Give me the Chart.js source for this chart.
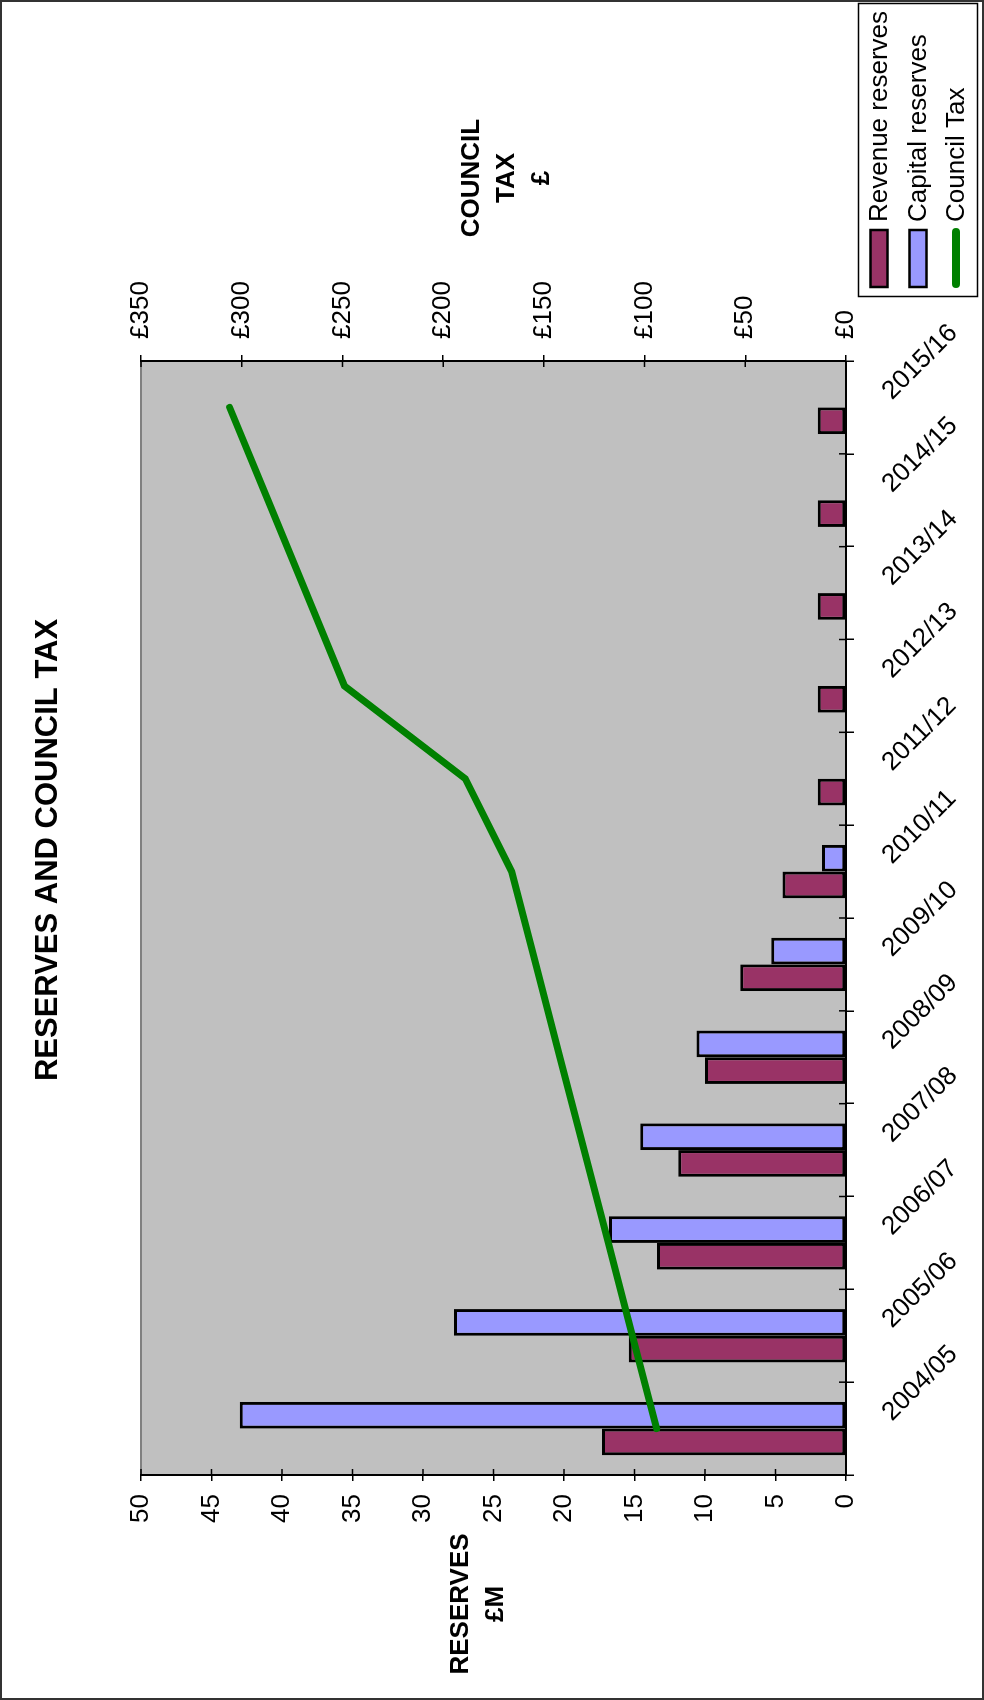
<!DOCTYPE html>
<html>
<head>
<meta charset="utf-8">
<title>Reserves and Council Tax</title>
<script src="https://cdn.jsdelivr.net/npm/chart.js@4.4.1/dist/chart.umd.min.js"></script>
<style>
  html, body { margin: 0; padding: 0; background: #fff; }
  body { width: 984px; height: 1700px; position: relative; overflow: hidden; }
  /* the chart is laid out landscape and turned a quarter turn anticlockwise */
  #stage {
    position: absolute; left: 0; top: 0;
    width: 1700px; height: 984px;
    transform-origin: 0 0;
    transform: translate(0, 1700px) rotate(-90deg);
  }
  canvas { display: block; }
</style>
</head>
<body>
<div id="stage"><canvas id="chart" width="1700" height="984"></canvas></div>
<script>
// ---- data ----
const years = ['2004/05', '2005/06', '2006/07', '2007/08', '2008/09', '2009/10',
               '2010/11', '2011/12', '2012/13', '2013/14', '2014/15', '2015/16'];
const revenueReserves = [17.3, 15.4, 13.4, 11.9, 10.0, 7.5, 4.5, 2.0, 2.0, 2.0, 2.0, 2.0];
const capitalReserves = [43.0, 27.8, 16.8, 14.6, 10.6, 5.3, 1.7, null, null, null, null, null];
const councilTax = [94, 106, 118, 130, 142, 154, 166, 189, 249, 268, 287, 306];
const reservesTicks = [0, 5, 10, 15, 20, 25, 30, 35, 40, 45, 50];
const taxTicks = [0, 50, 100, 150, 200, 250, 300, 350];

// ---- styling ----
const FONT = "'Liberation Sans', Arial, Helvetica, sans-serif";
const REVENUE_COLOR = '#993366';
const CAPITAL_COLOR = '#9999FF';
const TAX_COLOR = '#008000';
const PLOT_BG = '#C0C0C0';
const TICK_SIZE = 26;

// page background, outer frame and grey plot area
const backdrop = {
  id: 'backdrop',
  beforeDraw(chart) {
    const { ctx, width, height, chartArea: a } = chart;
    ctx.save();
    ctx.fillStyle = '#fff';
    ctx.fillRect(0, 0, width, height);
    ctx.strokeStyle = '#333';
    ctx.lineWidth = 2;
    ctx.strokeRect(1, 1, width - 2, height - 2);
    ctx.fillStyle = PLOT_BG;
    ctx.fillRect(a.left, a.top, a.right - a.left, a.bottom - a.top);
    ctx.strokeStyle = '#808080';
    ctx.lineWidth = 2;
    ctx.beginPath();
    ctx.moveTo(a.left, a.top);
    ctx.lineTo(a.right, a.top);
    ctx.stroke();
    ctx.restore();
  }
};

// tick marks that cross each axis line, slanted category labels, axis titles
const axisExtras = {
  id: 'axisExtras',
  afterDraw(chart) {
    const { ctx, chartArea: a, scales } = chart;
    const xs = scales.x, ys = scales.y, ys1 = scales.y1;
    ctx.save();
    ctx.strokeStyle = '#000';
    ctx.lineWidth = 1.5;
    ctx.beginPath();
    reservesTicks.forEach(v => {
      const p = ys.getPixelForValue(v);
      ctx.moveTo(a.left, p); ctx.lineTo(a.left + 6, p);
    });
    taxTicks.forEach(v => {
      const p = ys1.getPixelForValue(v);
      ctx.moveTo(a.right - 6, p); ctx.lineTo(a.right, p);
    });
    for (let i = 0; i <= years.length; i++) {
      const p = xs.getPixelForValue(i - 0.5);
      ctx.moveTo(p, a.bottom - 7); ctx.lineTo(p, a.bottom);
    }
    ctx.stroke();

    ctx.fillStyle = '#000';
    ctx.font = TICK_SIZE + 'px ' + FONT;
    ctx.textAlign = 'left';
    ctx.textBaseline = 'middle';
    years.forEach((label, i) => {
      const p = xs.getPixelForValue(i);
      ctx.save();
      ctx.translate(p + 12, a.bottom + 41);
      ctx.rotate(Math.PI / 4);
      ctx.fillText(label, 0, 0);
      ctx.restore();
    });

    ctx.font = 'bold 26px ' + FONT;
    ctx.textAlign = 'center';
    ctx.fillText('RESERVES', 96, 461);
    ctx.fillText('£M', 96, 496);
    ctx.fillText('COUNCIL', 1522, 472);
    ctx.fillText('TAX', 1522, 507);
    ctx.fillText('£', 1522, 542);
    ctx.restore();
  }
};

// boxed legend in the lower right corner
const boxLegend = {
  id: 'boxLegend',
  afterDraw(chart) {
    const { ctx } = chart;
    const rows = [879, 918, 956];
    ctx.save();
    ctx.strokeStyle = '#000';
    ctx.lineWidth = 1.5;
    ctx.strokeRect(1403.5, 858.5, 293, 119);
    ctx.font = '26px ' + FONT;
    ctx.textAlign = 'left';
    ctx.textBaseline = 'middle';
    chart.data.datasets.forEach((ds, i) => {
      const y = rows[i];
      if (ds.type === 'line') {
        ctx.strokeStyle = ds.borderColor;
        ctx.lineWidth = 8;
        ctx.lineCap = 'round';
        ctx.beginPath();
        ctx.moveTo(1416, y); ctx.lineTo(1468, y);
        ctx.stroke();
      } else {
        ctx.fillStyle = ds.backgroundColor;
        ctx.fillRect(1413, y - 8.5, 57, 17);
        ctx.strokeStyle = '#000';
        ctx.lineWidth = 2.5;
        ctx.strokeRect(1413, y - 8.5, 57, 17);
      }
      ctx.fillStyle = '#000';
      ctx.fillText(ds.label, 1478, y + 1);
    });
    ctx.restore();
  }
};

new Chart(document.getElementById('chart'), {
  type: 'bar',
  data: {
    labels: years,
    datasets: [
      {
        label: 'Revenue reserves',
        data: revenueReserves,
        backgroundColor: REVENUE_COLOR,
        borderColor: '#000',
        borderWidth: 3,
        borderSkipped: false,
        categoryPercentage: 0.575,
        barPercentage: 1.0,
        yAxisID: 'y',
        order: 2
      },
      {
        label: 'Capital reserves',
        data: capitalReserves,
        backgroundColor: CAPITAL_COLOR,
        borderColor: '#000',
        borderWidth: 3,
        borderSkipped: false,
        categoryPercentage: 0.575,
        barPercentage: 1.0,
        yAxisID: 'y',
        order: 2
      },
      {
        type: 'line',
        label: 'Council Tax',
        data: councilTax,
        borderColor: TAX_COLOR,
        backgroundColor: TAX_COLOR,
        borderWidth: 7,
        borderCapStyle: 'round',
        borderJoinStyle: 'miter',
        pointRadius: 0,
        tension: 0,
        fill: false,
        yAxisID: 'y1',
        order: 1
      }
    ]
  },
  options: {
    responsive: false,
    devicePixelRatio: 1,
    animation: false,
    layout: { padding: 0 },
    plugins: {
      legend: { display: false },
      tooltip: { enabled: false },
      title: {
        display: true,
        text: 'RESERVES AND COUNCIL TAX',
        color: '#000',
        font: { family: FONT, size: 31, weight: 'bold', lineHeight: 1.2 },
        padding: { top: 30, bottom: 73.8 }
      }
    },
    scales: {
      x: {
        type: 'category',
        offset: true,
        grid: { display: true, drawOnChartArea: false, drawTicks: true, tickLength: 8,
                offset: true, color: '#000', lineWidth: 1.5 },
        border: { display: true, color: '#000', width: 2 },
        ticks: { display: false },
        afterFit(s) { s.height = 138; }
      },
      y: {
        position: 'left',
        min: 0, max: 50,
        afterBuildTicks(s) { s.ticks = reservesTicks.map(v => ({ value: v })); },
        grid: { display: true, drawOnChartArea: false, drawTicks: true, tickLength: 6,
                color: '#000', lineWidth: 1.5 },
        border: { display: true, color: '#000', width: 2 },
        ticks: { color: '#000', padding: 13, font: { family: FONT, size: TICK_SIZE } },
        afterFit(s) { s.width = 225; }
      },
      y1: {
        position: 'right',
        min: 0, max: 350,
        afterBuildTicks(s) { s.ticks = taxTicks.map(v => ({ value: v })); },
        grid: { display: true, drawOnChartArea: false, drawTicks: true, tickLength: 6,
                color: '#000', lineWidth: 1.5 },
        border: { display: true, color: '#000', width: 2 },
        ticks: { color: '#000', padding: 16, font: { family: FONT, size: TICK_SIZE },
                 callback: v => '£' + v },
        afterFit(s) { s.width = 361; }
      }
    }
  },
  plugins: [backdrop, axisExtras, boxLegend]
});
</script>
</body>
</html>
